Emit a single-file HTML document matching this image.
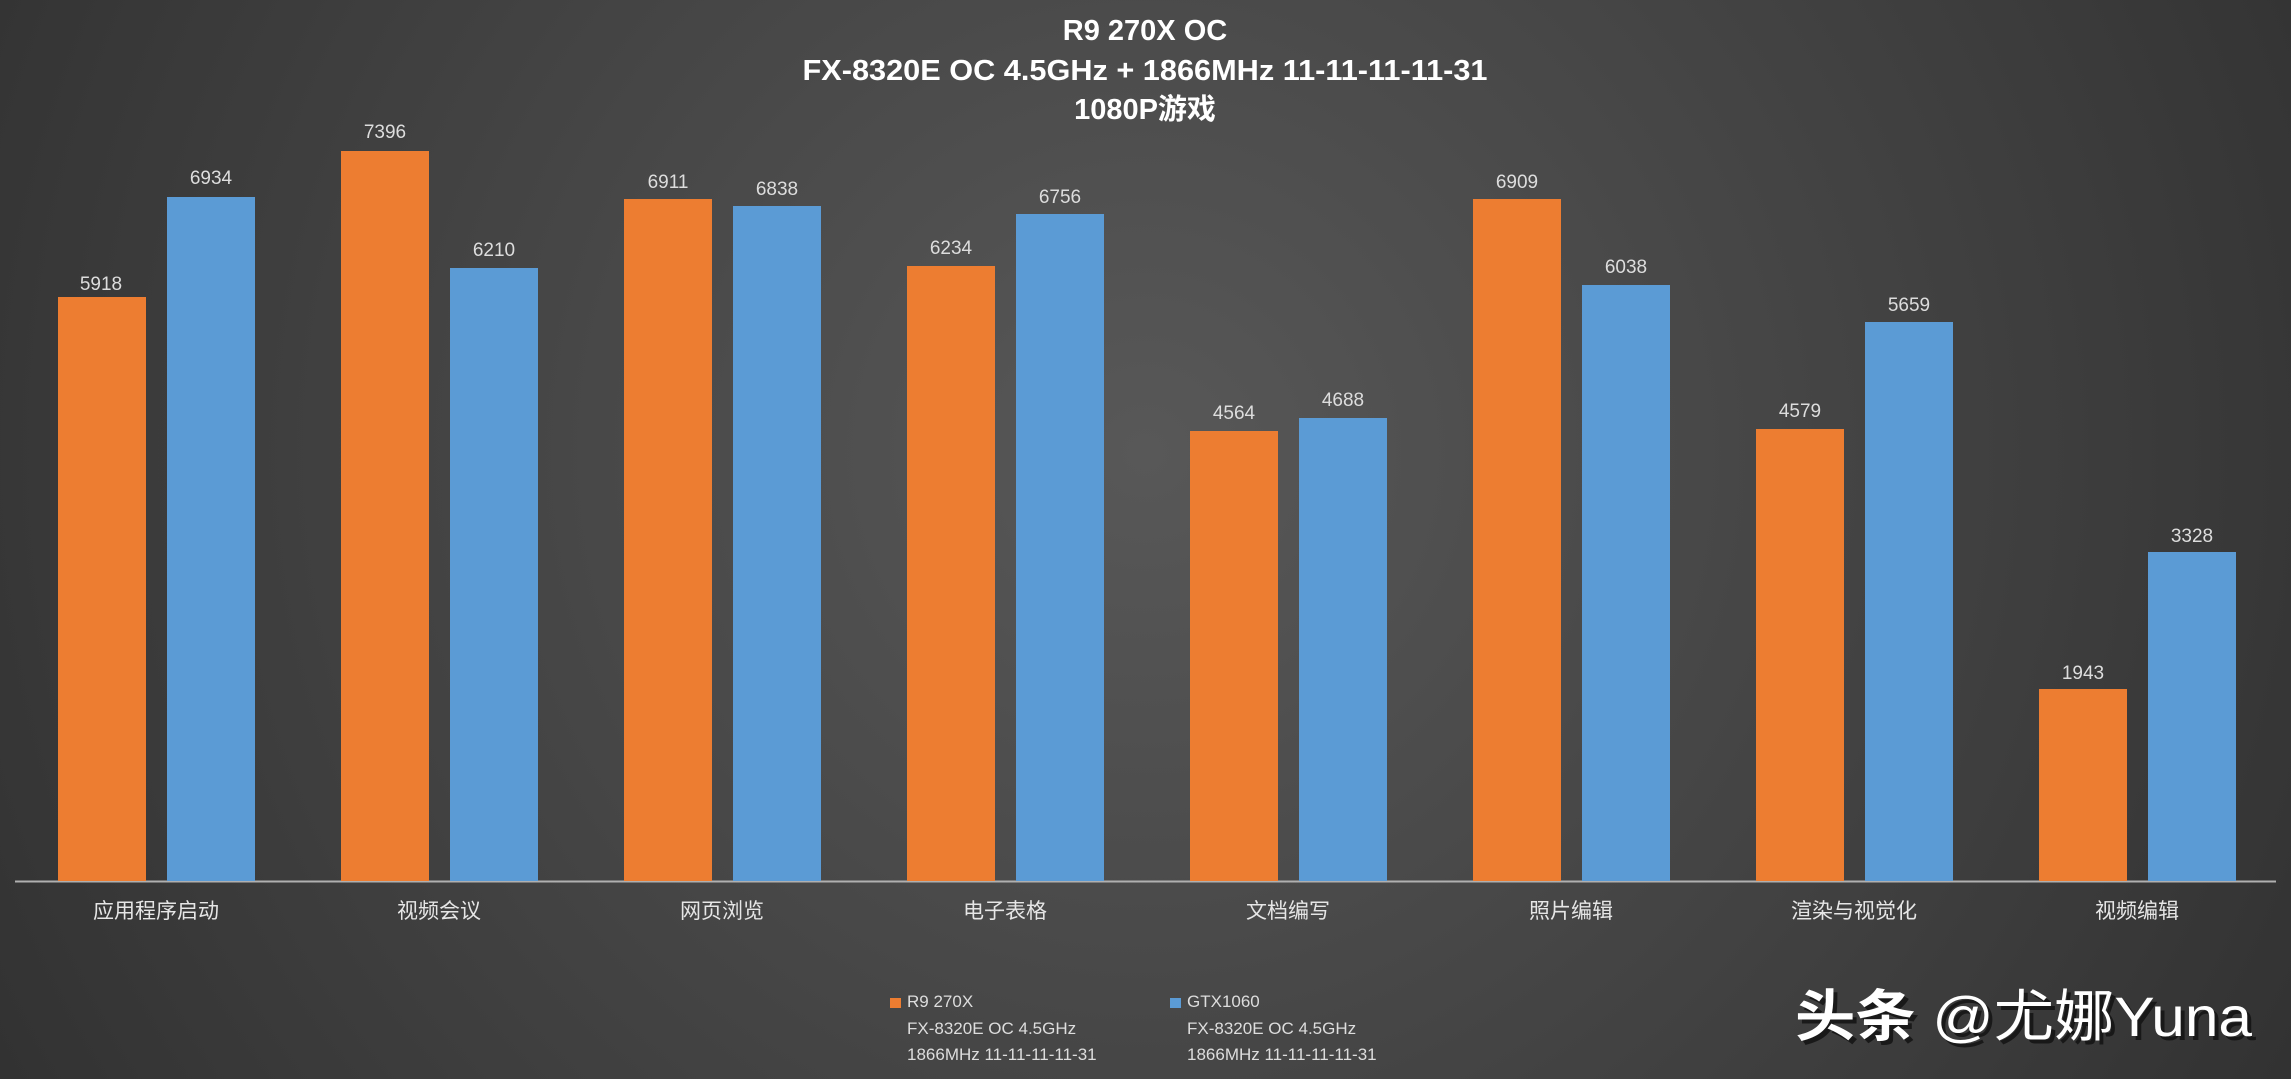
<!DOCTYPE html>
<html><head><meta charset="utf-8"><style>
html,body{margin:0;padding:0;width:2291px;height:1079px;overflow:hidden;background:#3a3a3a}
</style></head><body>
<svg width="2291" height="1079" xmlns="http://www.w3.org/2000/svg" font-family="'Liberation Sans','Noto Sans CJK SC',sans-serif">
<defs>
<radialGradient id="bg" cx="0.5" cy="0.42" r="0.75" gradientTransform="translate(0.5 0.42) scale(1 2.1) translate(-0.5 -0.42)">
<stop offset="0" stop-color="#585858"/><stop offset="1" stop-color="#262626"/>
</radialGradient>
</defs>
<rect width="2291" height="1079" fill="url(#bg)"/>
<g fill="#fff" font-weight="bold" font-size="29" text-anchor="middle">
<text x="1145" y="40">R9 270X  OC</text>
<text x="1145" y="80" textLength="685" lengthAdjust="spacingAndGlyphs">FX-8320E  OC 4.5GHz + 1866MHz  11-11-11-11-31</text>
<text x="1145" y="119">1080P游戏</text>
</g>
<line x1="15" y1="881.5" x2="2276" y2="881.5" stroke="#b0b0b0" stroke-width="2"/>
<g fill="#ddd" font-size="19" text-anchor="middle">
<text x="101" y="290">5918</text><text x="211" y="184">6934</text>
<text x="385" y="138">7396</text><text x="494" y="256">6210</text>
<text x="668" y="188">6911</text><text x="777" y="195">6838</text>
<text x="951" y="254">6234</text><text x="1060" y="203">6756</text>
<text x="1234" y="419">4564</text><text x="1343" y="406">4688</text>
<text x="1517" y="188">6909</text><text x="1626" y="273">6038</text>
<text x="1800" y="417">4579</text><text x="1909" y="311">5659</text>
<text x="2083" y="679">1943</text><text x="2192" y="542">3328</text>
</g>
<g fill="#ED7D31">
<rect x="58" y="297" width="88" height="584"/>
<rect x="341" y="151" width="88" height="730"/>
<rect x="624" y="199" width="88" height="682"/>
<rect x="907" y="266" width="88" height="615"/>
<rect x="1190" y="431" width="88" height="450"/>
<rect x="1473" y="199" width="88" height="682"/>
<rect x="1756" y="429" width="88" height="452"/>
<rect x="2039" y="689" width="88" height="192"/>
</g>
<g fill="#5B9BD5">
<rect x="167" y="197" width="88" height="684"/>
<rect x="450" y="268" width="88" height="613"/>
<rect x="733" y="206" width="88" height="675"/>
<rect x="1016" y="214" width="88" height="667"/>
<rect x="1299" y="418" width="88" height="463"/>
<rect x="1582" y="285" width="88" height="596"/>
<rect x="1865" y="322" width="88" height="559"/>
<rect x="2148" y="552" width="88" height="329"/>
</g>
<g fill="#e6e6e6" font-size="21" text-anchor="middle">
<text x="156" y="918">应用程序启动</text>
<text x="439" y="918">视频会议</text>
<text x="722" y="918">网页浏览</text>
<text x="1005" y="918">电子表格</text>
<text x="1288" y="918">文档编写</text>
<text x="1571" y="918">照片编辑</text>
<text x="1854" y="918">渲染与视觉化</text>
<text x="2137" y="918">视频编辑</text>
</g>
<rect x="890" y="998" width="11" height="10" fill="#ED7D31"/>
<rect x="1170" y="998" width="11" height="10" fill="#5B9BD5"/>
<g fill="#ddd" font-size="17">
<text x="907" y="1007">R9 270X</text>
<text x="907" y="1034">FX-8320E OC 4.5GHz</text>
<text x="907" y="1060">1866MHz 11-11-11-11-31</text>
<text x="1187" y="1007">GTX1060</text>
<text x="1187" y="1034">FX-8320E OC 4.5GHz</text>
<text x="1187" y="1060">1866MHz 11-11-11-11-31</text>
</g>
<g font-size="56" font-family="'Liberation Sans','Noto Sans CJK SC',sans-serif">
<text x="1799" y="1040" fill="#111" opacity="0.8" textLength="457" lengthAdjust="spacingAndGlyphs"><tspan font-weight="bold">头条</tspan> @尤娜Yuna</text>
<text x="1795" y="1036" fill="#fff" textLength="457" lengthAdjust="spacingAndGlyphs"><tspan font-weight="bold">头条</tspan> @尤娜Yuna</text>
</g>
</svg>
</body></html>
